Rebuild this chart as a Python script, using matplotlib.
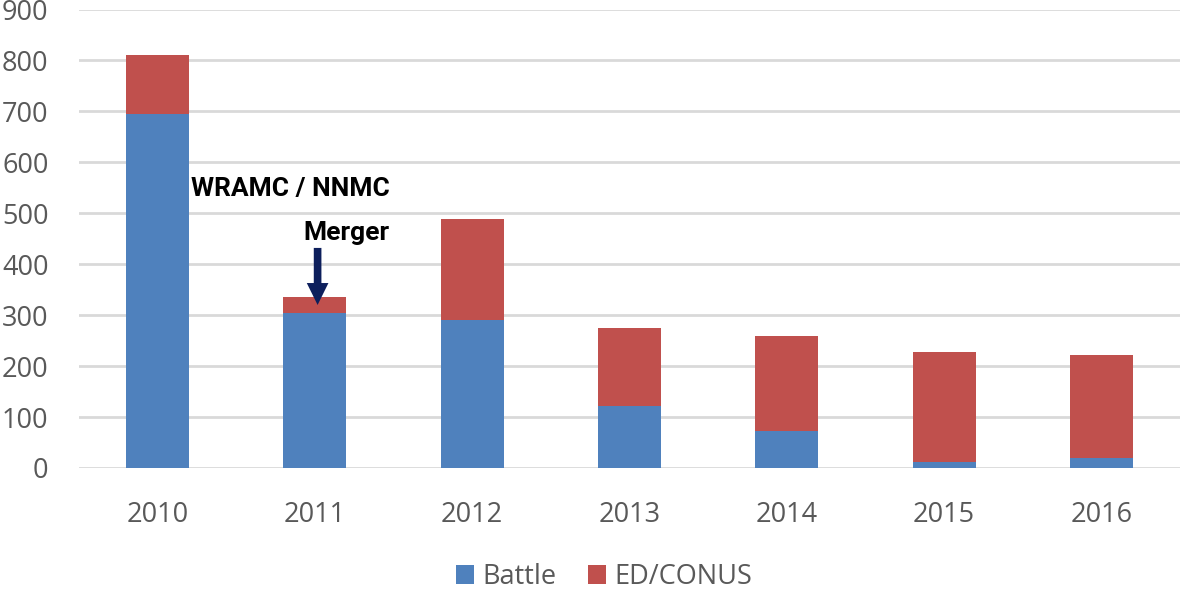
import matplotlib
matplotlib.use("Agg")
import matplotlib.pyplot as plt
import numpy as np

years = ["2010", "2011", "2012", "2013", "2014", "2015", "2016"]
battle = [695, 304, 291, 121, 72, 12, 20]
ed_conus = [116, 31, 198, 154, 188, 216, 201]
yticks = [0, 100, 200, 300, 400, 500, 600, 700, 800, 900]

BLUE = "#4F81BD"
RED = "#C0504D"
TXT = "#595959"
FONT = "Open Sans"
ANN_FONT, ANN_SIZE = "Roboto", 19

W, H = 1181, 593
fig = plt.figure(figsize=(W / 100, H / 100), dpi=100)
ax = fig.add_axes([79 / W, 1 - 468 / H, (1180 - 79) / W, (468 - 9.5) / H])

x = np.arange(len(years))
ax.bar(x, battle, width=0.4, color=BLUE, label="Battle", zorder=3)
ax.bar(x, ed_conus, width=0.4, bottom=battle, color=RED, label="ED/CONUS", zorder=3)

ax.set_xlim(-0.5, len(years) - 0.5)
ax.set_ylim(0, 900)
ax.set_yticks(yticks)
ax.set_xticks(x)
ax.set_xticklabels(years)
ax.grid(axis="y", color="#D9D9D9", lw=2, zorder=0)
for s in ax.spines.values():
    s.set_visible(False)
ax.tick_params(axis="both", length=0, colors=TXT, labelsize=19.5)
ax.tick_params(axis="y", pad=22)
ax.tick_params(axis="x", pad=24)
for lab in ax.get_xticklabels() + ax.get_yticklabels():
    lab.set_fontfamily(FONT)

# annotation
ax.text(1.475, 534, "WRAMC / NNMC", ha="right", va="baseline", fontsize=ANN_SIZE,
        fontweight="bold", family=ANN_FONT, color="black", zorder=5)
ax.text(1.475, 447.6, "Merger", ha="right", va="baseline", fontsize=ANN_SIZE,
        fontweight="bold", family=ANN_FONT, color="black", zorder=5)
ax.annotate("", xy=(1.017, 320), xytext=(1.017, 432),
            arrowprops=dict(arrowstyle="simple,head_length=15.8,head_width=15.6,tail_width=5.5",
                            mutation_scale=1, color="#0D1F5C", lw=0,
                            shrinkA=0, shrinkB=0), zorder=6)

leg = fig.legend(loc="center", bbox_to_anchor=(604 / W, 1 - 577 / H), ncol=2,
                 frameon=False, prop={"family": FONT, "size": 19.5},
                 handlelength=0.67, handleheight=0.67, handletextpad=0.3,
                 columnspacing=1.15)
for t in leg.get_texts():
    t.set_color(TXT)

fig.savefig("out.png", dpi=100)
